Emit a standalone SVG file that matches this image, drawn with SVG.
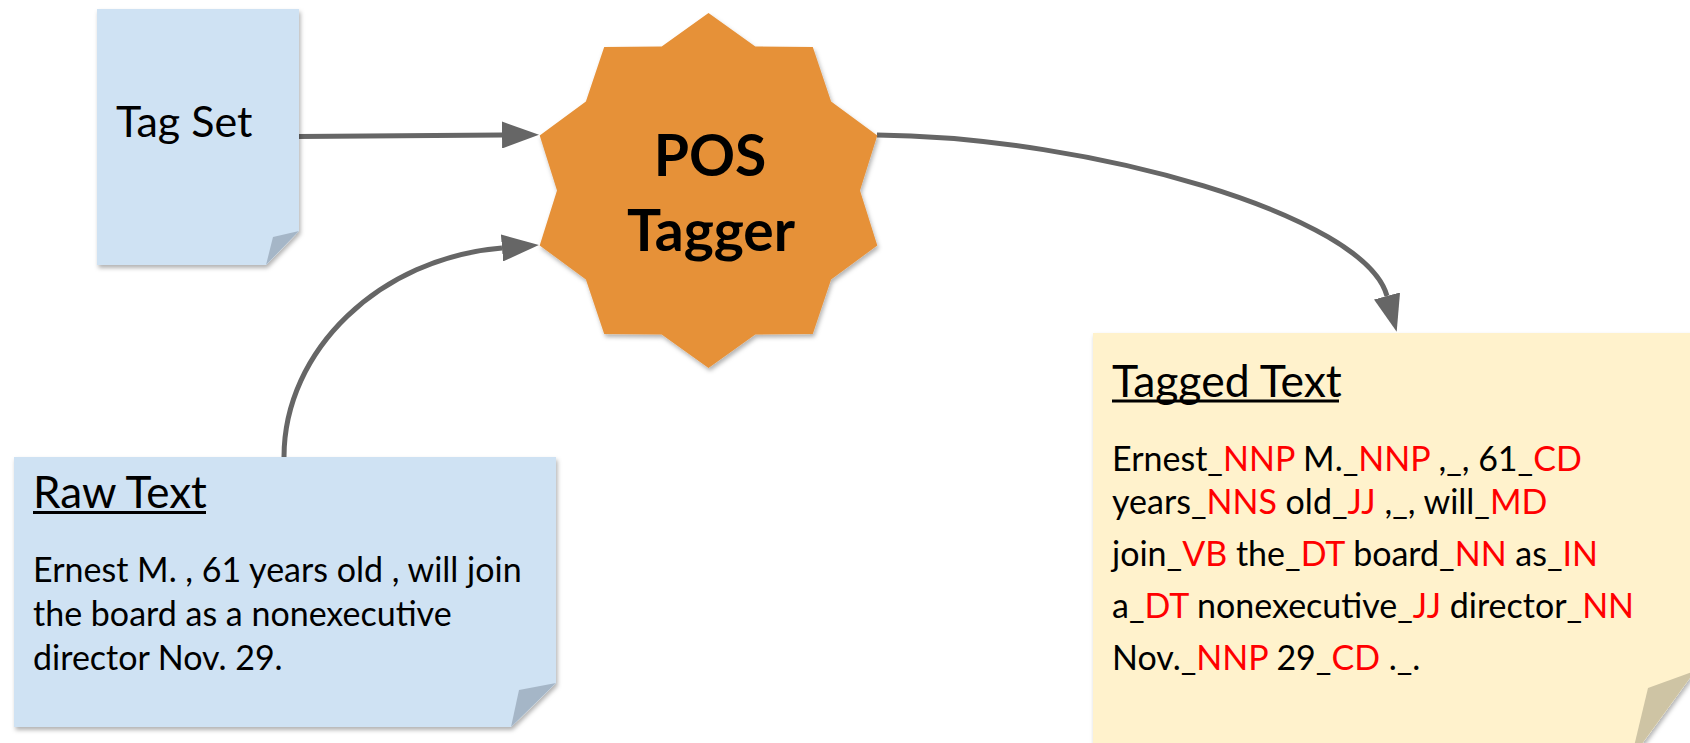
<svg xmlns="http://www.w3.org/2000/svg" width="1690" height="743" viewBox="0 0 1690 743">
<style>
.t{font-family:Lato,"Liberation Sans",sans-serif;fill:#000}
.r{fill:#FF0000}
.note-blue{fill:#CFE2F3}
.fold-blue{fill:#A5B6C7}
.note-yellow{fill:#FFF2CC}
.fold-yellow{fill:#CEC4A4}
.conn{fill:none;stroke:#666666;stroke-width:5}
.ul{stroke:#000;stroke-width:3}
</style>
<defs>
<filter id="sh" x="-10%" y="-10%" width="125%" height="125%">
<feDropShadow dx="1.5" dy="3" stdDeviation="2" flood-color="#000" flood-opacity="0.3"/>
</filter>
<marker id="ah" markerUnits="userSpaceOnUse" markerWidth="37" markerHeight="27" viewBox="0 0 37 27" refX="0" refY="13.5" orient="auto">
<path d="M0,0 L37,13.5 L0,27 z" fill="#666666"/>
</marker>
</defs>
<rect width="1690" height="743" fill="#FFFFFF"/>

<g id="connectors">
<path class="conn" d="M299 136.5 L502 135" marker-end="url(#ah)"/>
<path class="conn" d="M284 457 C284 350 380 258 502 248" marker-end="url(#ah)"/>
<path class="conn" d="M877 135 C1090 137 1365 215 1387 296" marker-end="url(#ah)"/>
</g>

<g id="node-tagset">
<polygon class="note-blue" filter="url(#sh)" points="97,9 299,9 299,231 266,265 97,265"/>
<polygon class="fold-blue" points="299,231 273,237 266,265"/>
<text class="t" x="116" y="137" font-size="43">Tag Set</text>
</g>

<g id="node-postagger">
<polygon fill="#E69138" filter="url(#sh)" points="708.5,13 755.3,46.4 812.8,46.9 831.1,101.4 877.3,135.6 860,190.5 877.3,245.4 831.1,279.6 812.8,334.1 755.3,334.6 708.5,368 661.7,334.6 604.2,334.1 585.9,279.6 539.7,245.4 557,190.5 539.7,135.6 585.9,101.4 604.2,46.9 661.7,46.4"/>
<text class="t" x="710" y="176" font-size="57" font-weight="bold" text-anchor="middle">POS</text>
<text class="t" x="711" y="250.5" font-size="57" font-weight="bold" text-anchor="middle">Tagger</text>
</g>

<g id="node-rawtext">
<polygon class="note-blue" filter="url(#sh)" points="14,457 556,457 556,683 511,727 14,727"/>
<polygon class="fold-blue" points="556,683 519,690 511,727"/>
<text class="t" x="33" y="508" font-size="44">Raw Text</text>
<line class="ul" x1="33" y1="512.5" x2="206" y2="512.5"/>
<text class="t" x="33" y="582" font-size="34">Ernest M. , 61 years old , will join</text>
<text class="t" x="33" y="626" font-size="34">the board as a nonexecutive</text>
<text class="t" x="33" y="670" font-size="34">director Nov. 29.</text>
</g>

<g id="node-taggedtext">
<polygon class="note-yellow" filter="url(#sh)" points="1093,333 1695,333 1695,671 1631,759 1093,759"/>
<polygon class="fold-yellow" points="1695,671 1648,688 1631,759"/>
<text class="t" x="1112" y="397" font-size="44.5">Tagged Text</text>
<line class="ul" x1="1112" y1="401" x2="1339" y2="401"/>
<text class="t" x="1112" y="471" font-size="34">Ernest_<tspan class="r">NNP</tspan> M._<tspan class="r">NNP</tspan> ,_, 61_<tspan class="r">CD</tspan></text>
<text class="t" x="1112" y="514" font-size="34">years_<tspan class="r">NNS</tspan> old_<tspan class="r">JJ</tspan> ,_, will_<tspan class="r">MD</tspan></text>
<text class="t" x="1112" y="566" font-size="34">join_<tspan class="r">VB</tspan> the_<tspan class="r">DT</tspan> board_<tspan class="r">NN</tspan> as_<tspan class="r">IN</tspan></text>
<text class="t" x="1112" y="618" font-size="34">a_<tspan class="r">DT</tspan> nonexecutive_<tspan class="r">JJ</tspan> director_<tspan class="r">NN</tspan></text>
<text class="t" x="1112" y="670" font-size="34">Nov._<tspan class="r">NNP</tspan> 29_<tspan class="r">CD</tspan> ._.</text>
</g>
</svg>
